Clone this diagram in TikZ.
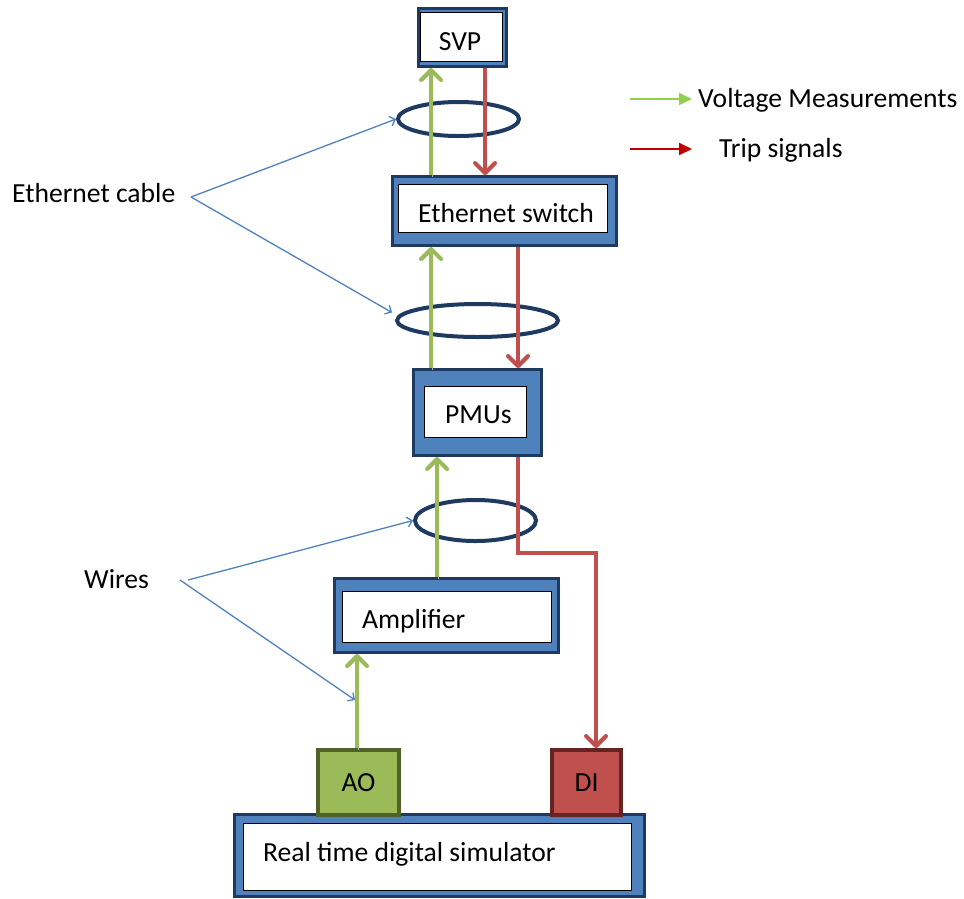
\documentclass[tikz,border=0pt]{standalone}
\usepackage{fontspec}
\setmainfont{Carlito}
\usetikzlibrary{arrows.meta,shapes.geometric,calc}
\definecolor{navy}{HTML}{1F3A60}
\definecolor{boxblue}{HTML}{4F81BD}
\definecolor{ogreen}{HTML}{9BBB59}
\definecolor{dgreen}{HTML}{4F6228}
\definecolor{ored}{HTML}{C0504D}
\definecolor{dred}{HTML}{632423}
\definecolor{lgreen}{HTML}{92D050}
\definecolor{lred}{HTML}{C00000}
\begin{document}
\begin{tikzpicture}[x=1pt,y=-1pt,
  lbl/.style={inner sep=0pt, font=\fontsize{27.6}{32}\selectfont},
  outerbox/.style={draw=navy, fill=boxblue, line width=3pt, inner sep=0pt},
  innerbox/.style={draw=black, fill=white, line width=1.2pt, inner sep=0pt},
  cable/.style={draw=navy, ellipse, line width=4pt, inner sep=0pt},
  shadowed/.style={preaction={draw=black!30, transform canvas={shift={(1.5pt,-1.5pt)}}}},
  garrow/.style={draw=ogreen, line width=4pt, shadowed, -{Straight Barb[length=10pt,width=20pt,round]}},
  rarrow/.style={draw=ored, line width=4pt, shadowed, line join=miter, -{Straight Barb[length=10pt,width=20pt,round]}},
  pointer/.style={draw=boxblue, line width=1.3pt, -{Straight Barb[length=5pt,width=10pt]}},
  legarrow/.style={line width=2pt, -{Triangle[length=13pt,width=12pt]}}
]
\useasboundingbox (0,0) rectangle (964,898);

% boxes
\node[outerbox, minimum width=88pt, minimum height=58pt] (svp) at (462.5,37.5) {};
\node[innerbox, minimum width=82pt, minimum height=49pt] (svpi) at (461.5,37) {};
\node[lbl, anchor=base] (svpt) at (460,50) {SVP};

\node[outerbox, minimum width=224pt, minimum height=69pt] (esw) at (504.5,211) {};
\node[innerbox, minimum width=209pt, minimum height=48pt] (eswi) at (503,208.5) {};
\node[lbl, anchor=base west] (eswt) at (418,222) {Ethernet switch};

\node[outerbox, minimum width=128pt, minimum height=86pt] (pmu) at (477.5,412.5) {};
\node[innerbox, minimum width=102pt, minimum height=51pt] (pmui) at (475.5,412) {};
\node[lbl, anchor=base west] (pmut) at (445,423) {PMUs};

\node[outerbox, minimum width=224pt, minimum height=74pt] (amp) at (446.5,615.5) {};
\node[innerbox, minimum width=209pt, minimum height=51pt] (ampi) at (447,617) {};
\node[lbl, anchor=base west] (ampt) at (362,628) {Amplifier};

\node[outerbox, minimum width=410pt, minimum height=82pt] (rtds) at (439.5,855.5) {};
\node[innerbox, minimum width=388pt, minimum height=67pt] (rtdsi) at (437.5,857) {};
\node[lbl, anchor=base west] (rtdst) at (263,861) {Real time digital simulator};

\node[draw=dgreen, fill=ogreen, line width=4pt, minimum width=81pt, minimum height=65pt, lbl] (ao) at (358.5,782.5) {AO};
\node[draw=dred, fill=ored, line width=4pt, minimum width=69pt, minimum height=65pt, lbl] (di) at (586.5,782.5) {DI};

% cables
\node[cable, minimum width=121pt, minimum height=34pt] (e1) at (458.5,119) {};
\node[cable, minimum width=161pt, minimum height=33pt] (e2) at (477.5,320.5) {};
\node[cable, minimum width=121pt, minimum height=41pt] (e3) at (475.5,520.5) {};

% x positions of the signal lines
\coordinate (g1) at (431,0);
\coordinate (g2) at (437,0);
\coordinate (g3) at (357,0);
\coordinate (r1) at (485,0);
\coordinate (r2) at (518,0);
\coordinate (bend) at (596,553);

\draw[garrow] (g1 |- esw.north) -- (g1 |- svp.south);
\draw[garrow] (g1 |- pmu.north) -- (g1 |- esw.south);
\draw[garrow] (g2 |- amp.north) -- (g2 |- pmu.south);
\draw[garrow] (g3 |- ao.north) -- (g3 |- amp.south);

\draw[rarrow] (r1 |- svp.south) -- (r1 |- esw.north);
\draw[rarrow] (r2 |- esw.south) -- (r2 |- pmu.north);
\draw[rarrow] (r2 |- pmu.south) |- (bend) -- (bend |- di.north);

% annotations
\node[lbl, anchor=base west] (ect) at (12,202) {Ethernet cable};
\node[lbl, anchor=base west] (wt) at (84,588) {Wires};
\coordinate (ecsrc) at (191,197);
\coordinate (wsrc1) at (188,580);
\coordinate (wsrc2) at (180,580);
\coordinate (wtip) at (355,700);
\draw[pointer] (ecsrc) -- (e1.west);
\draw[pointer] (ecsrc) -- ($(e2.west)+(-3,-8)$);
\draw[pointer] (wsrc1) -- (e3.west);
\draw[pointer] (wsrc2) -- (wtip);

% legend
\coordinate (lg1) at (630,99);
\coordinate (lg2) at (692,99);
\coordinate (lr1) at (630,149);
\coordinate (lr2) at (692,149);
\draw[legarrow, draw=lgreen, fill=lgreen] (lg1) -- (lg2);
\draw[legarrow, draw=lred, fill=lred] (lr1) -- (lr2);
\node[lbl, anchor=base west] (vmt) at (698,107) {Voltage Measurements};
\node[lbl, anchor=base west] (tst) at (719,157) {Trip signals};
\end{tikzpicture}
\end{document}
